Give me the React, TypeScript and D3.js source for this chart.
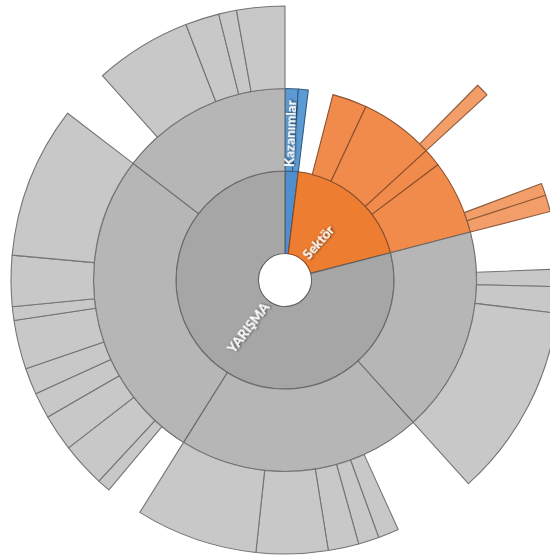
import React, { useMemo } from 'react';
import * as d3 from 'd3';

// ---- Data (proportional to slice angles) ----
const level1Names = ['Kazanımlar', 'Sektör', 'YARIŞMA'];
const level1Own = [0, 7.5, 0]; // portion of a level-1 slice with no children
const level2Values = [
  [4, 3],
  [10.5, 22.5, 5.5, 22.5],
  [62.5, 74, 95.5, 52.5],
];
const level2Names = [
  ['Kazanımlar', 'Kazanımlar 2'],
  ['S1', 'S2', 'S3', 'S4'],
  ['Y1', 'Y2', 'Y3', 'Y4'],
];
const level3Values = [
  [[], []],
  [[], [2.8], [], [2.6, 3.5]],
  [
    [3.7, 5.6, 41],
    [4.4, 4.4, 6.5, 15.2, 25.9],
    [2.8, 9.4, 7.8, 5.5, 5.6, 10.4, 2.9, 10.8, 32.3],
    [20.6, 7.2, 3.8, 10.2],
  ],
];
const levelColors = [
  ['#4f8fd0', '#5b9bd5', '#74abdd'],
  ['#ed7d31', '#f08b4c', '#f39d69'],
  ['#a6a6a6', '#b6b6b6', '#c8c8c8'],
];
const labelled = [
  { name: 'Sektör', depth: 1 },
  { name: 'YARIŞMA', depth: 1 },
  { name: 'Kazanımlar', depth: 2 },
];

type Node = { name: string; value?: number; blank?: boolean; group?: number; children?: Node[] };

function buildTree(): Node {
  const kids: Node[] = level1Names.map((n1, i) => {
    const ch: Node[] = [];
    if (level1Own[i] > 0) ch.push({ name: '', value: level1Own[i], blank: true, group: i });
    level2Values[i].forEach((v2, j) => {
      const subs = level3Values[i][j];
      if (subs.length === 0) {
        ch.push({ name: level2Names[i][j], value: v2, group: i });
      } else {
        const gap = v2 - d3.sum(subs);
        const c3: Node[] = [];
        if (gap > 0.001) c3.push({ name: '', value: gap, blank: true, group: i });
        subs.forEach((v3, k) => c3.push({ name: `${level2Names[i][j]}.${k + 1}`, value: v3, group: i }));
        ch.push({ name: level2Names[i][j], group: i, children: c3 });
      }
    });
    return { name: n1, group: i, children: ch };
  });
  return { name: 'root', children: kids };
}

const W = 550;
const H = 559;
const CX = 285;
const CY = 280;

export default function App() {
  const nodes = useMemo(() => {
    const root = d3.hierarchy<Node>(buildTree()).sum((d) => (d.children ? 0 : d.value || 0));
    d3.partition<Node>().size([2 * Math.PI, 4])(root);
    return root.descendants().filter((d) => d.depth > 0) as d3.HierarchyRectangularNode<Node>[];
  }, []);

  const r = d3.scaleLinear().domain([1, 4]).range([26.5, 274]);
  const arc = d3
    .arc<d3.HierarchyRectangularNode<Node>>()
    .startAngle((d) => d.x0)
    .endAngle((d) => d.x1)
    .innerRadius((d) => r(d.y0))
    .outerRadius((d) => r(d.y1));

  const fill = (d: d3.HierarchyRectangularNode<Node>) => levelColors[d.data.group!][d.depth - 1];

  const labels = nodes.filter(
    (d) => !d.data.blank && labelled.some((l) => l.name === d.data.name && l.depth === d.depth)
  );

  return (
    <svg width={W} height={H} style={{ position: 'absolute', left: 0, top: 0 }}>
      <defs>
        <filter id="sh" x="-20%" y="-50%" width="140%" height="200%">
          <feDropShadow dx="0.8" dy="0.9" stdDeviation="1" floodColor="#000" floodOpacity="0.75" />
        </filter>
      </defs>
      <rect width={W} height={H} fill="#fff" />
      <g transform={`translate(${CX},${CY})`}>
        {nodes
          .filter((d) => !d.data.blank)
          .map((d, i) => {
            const f = fill(d);
            return (
              <path
                key={i}
                d={arc(d) || ''}
                fill={f}
                stroke={d3.color(f)!.darker(1.5).formatHex()}
                strokeWidth={1.1}
                strokeLinejoin="round"
              />
            );
          })}
        {labels.map((d, i) => {
          const a = ((d.x0 + d.x1) / 2) * (180 / Math.PI);
          const inward = a > 180;
          const rr = r(d.y0) + 4;
          const rot = inward ? a + 90 : a - 90;
          const rad = (a * Math.PI) / 180;
          const x = rr * Math.sin(rad);
          const y = -rr * Math.cos(rad);
          return (
            <text
              key={i}
              transform={`translate(${x},${y}) rotate(${rot})`}
              textAnchor={inward ? 'end' : 'start'}
              dy="0.35em"
              fill="#fff"
              fontFamily="Lato, 'Open Sans', sans-serif"
              fontWeight="bold"
              fontSize={13.5}
              filter="url(#sh)"
            >
              {d.data.name}
            </text>
          );
        })}
      </g>
    </svg>
  );
}
